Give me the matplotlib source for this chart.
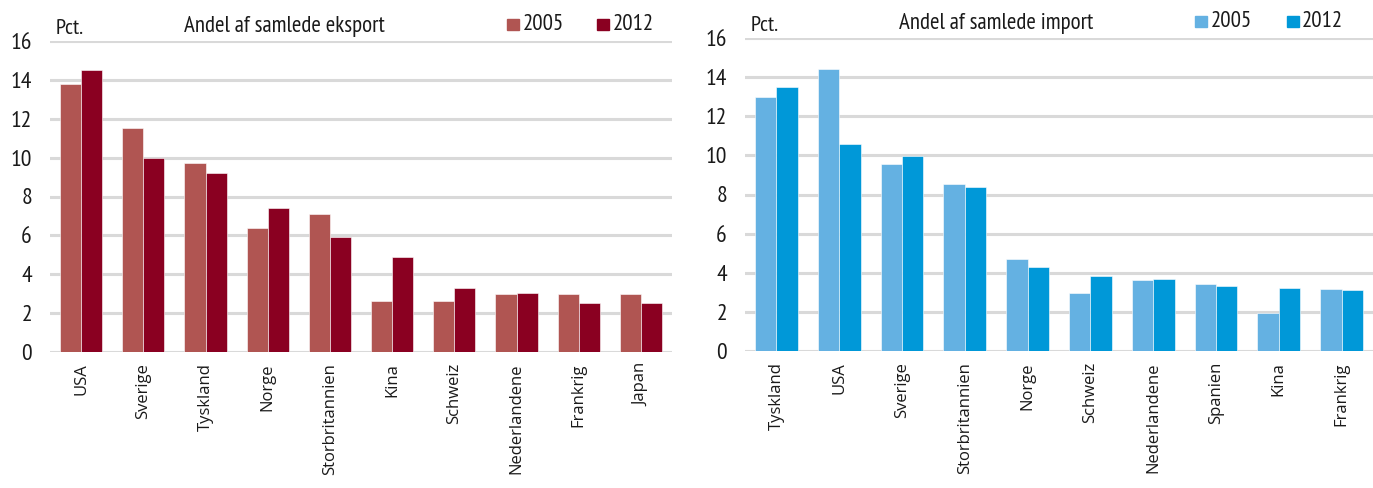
import numpy as np
import matplotlib
matplotlib.use("Agg")
import matplotlib.pyplot as plt

# Eksport
exp_countries = ["USA", "Sverige", "Tyskland", "Norge", "Storbritannien",
                 "Kina", "Schweiz", "Nederlandene", "Frankrig", "Japan"]
exp_2005 = [13.8, 11.5, 9.7, 6.4, 7.1, 2.6, 2.6, 3.0, 3.0, 3.0]
exp_2012 = [14.5, 10.0, 9.2, 7.4, 5.9, 4.9, 3.3, 3.05, 2.5, 2.5]

# Import
imp_countries = ["Tyskland", "USA", "Sverige", "Storbritannien", "Norge",
                 "Schweiz", "Nederlandene", "Spanien", "Kina", "Frankrig"]
imp_2005 = [13.0, 14.4, 9.55, 8.55, 4.7, 2.95, 3.65, 3.45, 1.95, 3.15]
imp_2012 = [13.5, 10.6, 9.95, 8.4, 4.3, 3.85, 3.7, 3.3, 3.2, 3.1]

years = ["2005", "2012"]
yticks = [0, 2, 4, 6, 8, 10, 12, 14, 16]

narrow = ["PT Sans Narrow", "DejaVu Sans"]
plain = ["Open Sans", "DejaVu Sans"]
plt.rcParams["font.family"] = narrow
plt.rcParams["text.color"] = "#1a1a1a"

W, H = 1373, 488
fig = plt.figure(figsize=(W / 100, H / 100), dpi=100)
ax1 = fig.add_axes([50 / W, 1 - 352 / H, 622 / W, 311 / H])
ax2 = fig.add_axes([745 / W, 1 - 351 / H, 628 / W, 313 / H])


def draw(ax, cats, a, b, colors, title, title_x, leg_x, leg_dx, ax_w, ax_h):
    x = np.arange(len(cats))
    w = 0.34
    ax.bar(x - w / 2, a, w, color=colors[0], edgecolor="white", linewidth=0.4, zorder=3)
    ax.bar(x + w / 2, b, w, color=colors[1], edgecolor="white", linewidth=0.4, zorder=3)
    ax.set_xlim(-0.5, len(cats) - 0.5)
    ax.set_ylim(0, 16)
    ax.set_yticks(yticks)
    ax.set_yticklabels([str(t) for t in yticks], fontsize=17, color="#1a1a1a")
    ax.set_xticks(x)
    ax.tick_params(length=0)
    ax.tick_params(axis="x", pad=8)
    ax.tick_params(axis="y", pad=13)
    ax.set_xticklabels(cats, rotation=90, fontfamily=plain, fontsize=12,
                       color="#1a1a1a")
    ax.grid(axis="y", color="#d9d9d9", linewidth=2.2, zorder=0)
    for s in ax.spines.values():
        s.set_visible(False)
    base = 1 + 9 / ax_h
    ax.text(0.009, 1 + 7 / ax_h, "Pct.", transform=ax.transAxes, fontsize=16,
            va="baseline", ha="left")
    ax.text(title_x, base, title, transform=ax.transAxes, fontsize=16.5,
            va="baseline", ha="center")
    sq_w = 12 / ax_w
    sq_h = 11 / ax_h
    for i, (yr, c) in enumerate(zip(years, colors)):
        lx = leg_x + i * leg_dx
        ax.add_patch(plt.Rectangle((lx, 1 + 11 / ax_h), sq_w, sq_h,
                                   transform=ax.transAxes, color=c, clip_on=False))
        ax.text(lx + sq_w + 0.005, 1 + 11 / ax_h, yr, transform=ax.transAxes,
                fontsize=16.5, va="baseline", ha="left")


draw(ax1, exp_countries, exp_2005, exp_2012, ["#b05552", "#8a0021"],
     "Andel af samlede eksport", 0.377, 0.735, 0.145, 622, 311)
draw(ax2, imp_countries, imp_2005, imp_2012, ["#64b1e2", "#0098d8"],
     "Andel af samlede import", 0.40, 0.717, 0.146, 628, 313)

fig.savefig("out.png", dpi=100)
